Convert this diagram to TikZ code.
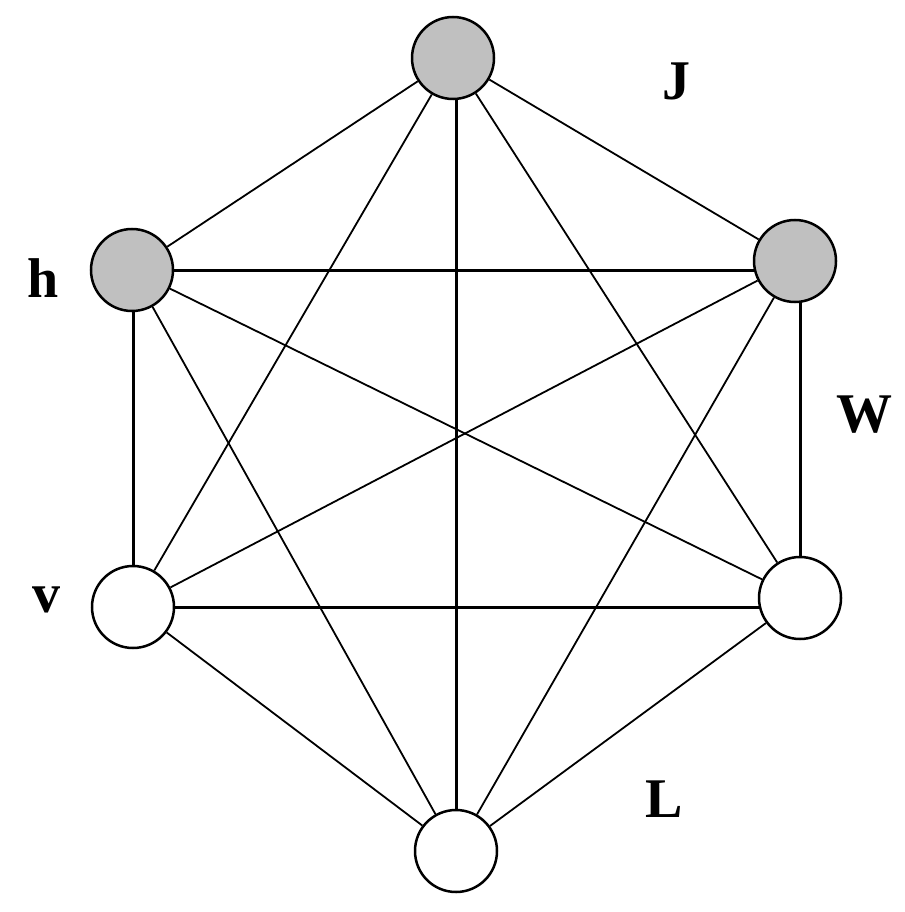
\documentclass[tikz,border=0pt]{standalone}
\usepackage{fontspec}
\setmainfont{Liberation Serif}
\usetikzlibrary{backgrounds}
\definecolor{vgray}{RGB}{192,192,192}
\begin{document}
\begin{tikzpicture}[x=1pt, y=-1pt,
    vert/.style={circle, draw, line width=2.5pt, minimum size=82pt, inner sep=0pt, fill=white},
    lbl/.style={anchor=base, font=\fontsize{56}{60}\selectfont\bfseries}]
  \useasboundingbox (0,0) rectangle (904,912);
  % vertices (first three shaded)
  \node[vert, fill=vgray] (top) at (453,58) {};
  \node[vert, fill=vgray] (ul) at (132,270) {};
  \node[vert, fill=vgray] (ur) at (795,261) {};
  \node[vert] (ll) at (133,607) {};
  \node[vert] (lr) at (800,598) {};
  \node[vert] (bot) at (456,851) {};
  \begin{pgfonlayer}{background}
    % edges, thin diagonals
    \foreach \a/\b in {top/ul, top/ur, top/ll, top/lr, ul/lr, ul/bot, ur/ll, ur/bot, ll/bot, lr/bot}
      \draw[line width=1.8pt] (\a) -- (\b);
    % edges, straight ones a bit heavier
    \draw[line width=3pt] (bot |- top) -- (bot);
    \draw[line width=3pt] (ul) -- (ul -| ur);
    \draw[line width=3pt] (ll) -- (ll -| lr);
    \draw[line width=3pt] (ll |- ul) -- (ll);
    \draw[line width=3pt] (lr |- ur) -- (lr);
  \end{pgfonlayer}
  % labels
  \node[lbl] (lJ) at (676,100) {J};
  \node[lbl] (lh) at (43,297) {h};
  \node[lbl] (lW) at (864,432) {W};
  \node[lbl] (lv) at (46,612) {v};
  \node[lbl] (lL) at (664,817) {L};
\end{tikzpicture}
\end{document}
